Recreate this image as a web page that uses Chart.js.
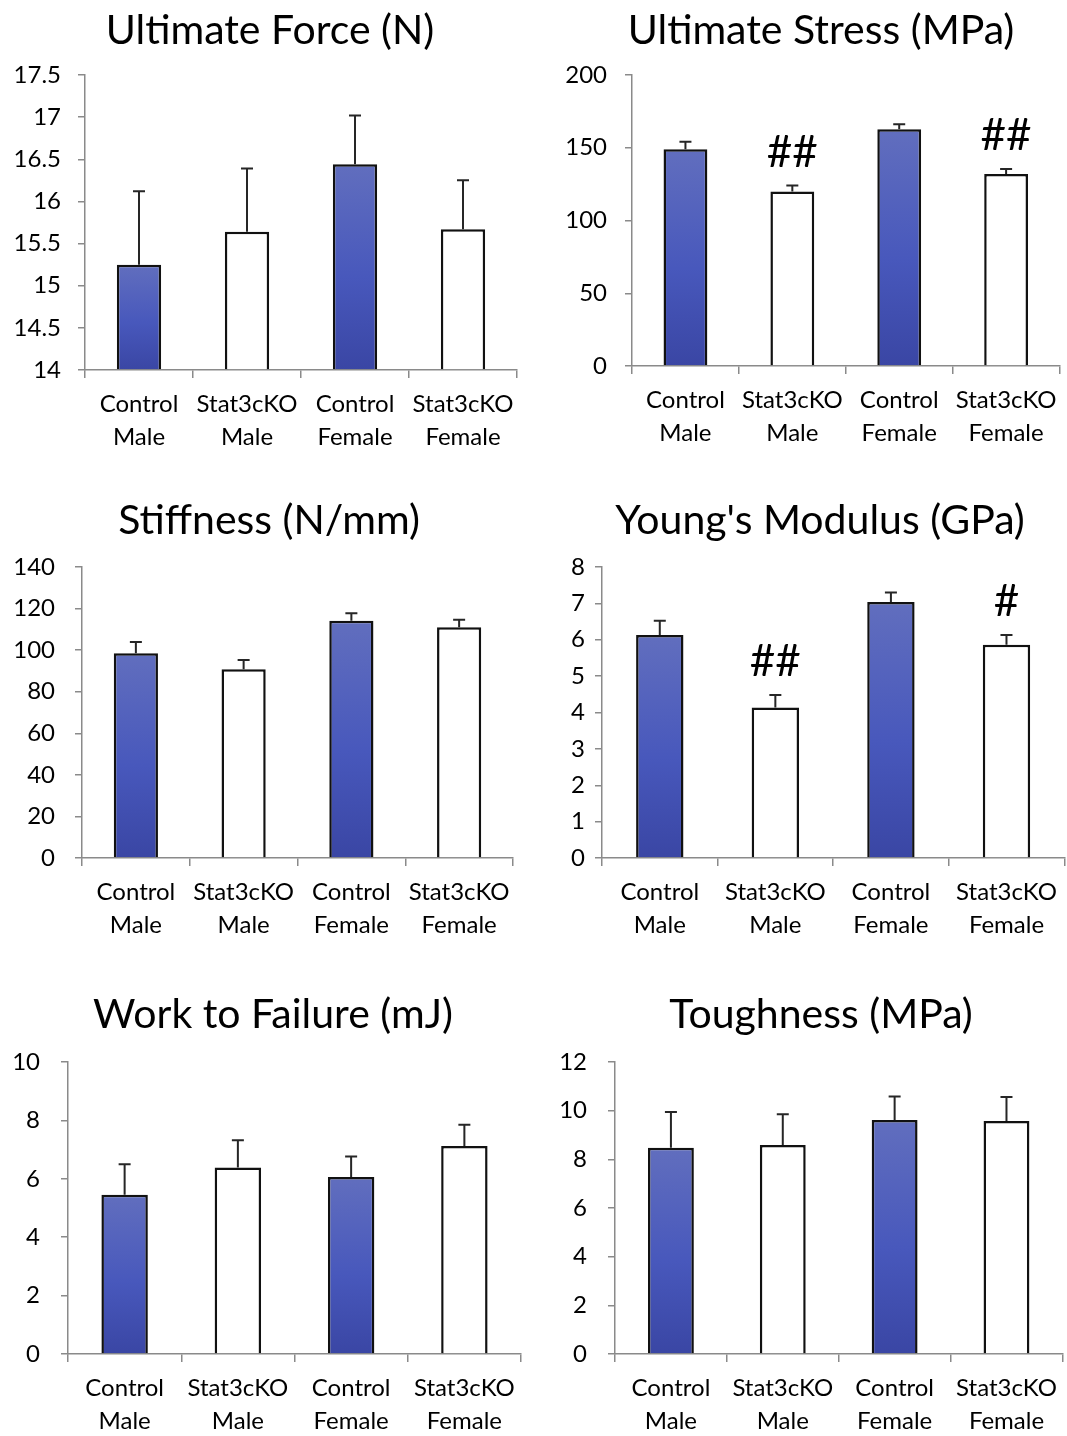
<!DOCTYPE html>
<html><head><meta charset="utf-8">
<script src="https://cdn.jsdelivr.net/npm/chart.js@4.4.0/dist/chart.umd.min.js"></script>
<style>
html,body{margin:0;padding:0;background:#fff;}
body{width:1067px;height:1436px;position:relative;overflow:hidden;}
canvas{position:absolute;}
</style></head><body>
<canvas id="c1"></canvas><canvas id="c2"></canvas><canvas id="c3"></canvas>
<canvas id="c4"></canvas><canvas id="c5"></canvas><canvas id="c6"></canvas>
<script>
// ---------- data ----------
const categories = [['Control','Male'],['Stat3cKO','Male'],['Control','Female'],['Stat3cKO','Female']];
const groups = ['Control','Stat3cKO','Control','Stat3cKO'];

const forceMean = [15.25, 15.64, 16.44, 15.67];
const forceSem  = [0.87, 0.75, 0.58, 0.58];
const forceTicks = [14, 14.5, 15, 15.5, 16, 16.5, 17, 17.5];
const forceSig = ['', '', '', ''];

const stressMean = [149, 120, 162.7, 132];
const stressSem  = [5.2, 4.0, 3.4, 3.4];
const stressTicks = [0, 50, 100, 150, 200];
const stressSig = ['', '##', '', '##'];

const stiffMean = [98.5, 90.8, 114.1, 111];
const stiffSem  = [5.4, 4.4, 3.6, 3.6];
const stiffTicks = [0, 20, 40, 60, 80, 100, 120, 140];
const stiffSig = ['', '', '', ''];

const youngMean = [6.13, 4.14, 7.04, 5.86];
const youngSem  = [0.39, 0.34, 0.26, 0.27];
const youngTicks = [0, 1, 2, 3, 4, 5, 6, 7, 8];
const youngSig = ['', '##', '', '#'];

const workMean = [5.45, 6.39, 6.06, 7.12];
const workSem  = [1.05, 0.93, 0.70, 0.73];
const workTicks = [0, 2, 4, 6, 8, 10];
const workSig = ['', '', '', ''];

const toughMean = [8.48, 8.59, 9.62, 9.58];
const toughSem  = [1.47, 1.26, 0.96, 0.98];
const toughTicks = [0, 2, 4, 6, 8, 10, 12];
const toughSig = ['', '', '', ''];

const titles = ['Ultimate Force (N)','Ultimate Stress (MPa)','Stiffness (N/mm)',"Young's Modulus (GPa)",'Work to Failure (mJ)','Toughness (MPa)'];

// ---------- layout / style ----------
const panels = [
  {id:'c1', title:titles[0], mean:forceMean, sem:forceSem, ticks:forceTicks, sig:forceSig,
   box:[0,0,540,475], area:[85,75,517,370], yW:80, xH:90, yPad:17, tx:270, ty:44},
  {id:'c2', title:titles[1], mean:stressMean, sem:stressSem, ticks:stressTicks, sig:stressSig,
   box:[540,0,527,475], area:[632,75,1063,366], yW:80, xH:90, yPad:18, tx:821, ty:44},
  {id:'c3', title:titles[2], mean:stiffMean, sem:stiffSem, ticks:stiffTicks, sig:stiffSig,
   box:[0,475,540,490], area:[82,567,513,858], yW:80, xH:90, yPad:20, tx:269, ty:534},
  {id:'c4', title:titles[3], mean:youngMean, sem:youngSem, ticks:youngTicks, sig:youngSig,
   box:[540,475,527,490], area:[602,567,1066,858], yW:60, xH:90, yPad:10, tx:820, ty:534},
  {id:'c5', title:titles[4], mean:workMean, sem:workSem, ticks:workTicks, sig:workSig,
   box:[0,965,540,471], area:[68,1062,521,1354], yW:60, xH:80, yPad:21, tx:273, ty:1028},
  {id:'c6', title:titles[5], mean:toughMean, sem:toughSem, ticks:toughTicks, sig:toughSig,
   box:[540,965,527,471], area:[615,1062,1066,1354], yW:60, xH:80, yPad:21, tx:821, ty:1028}
];

const AXIS = '#8a8a8a';
const FONT = 'Lato';

const extras = {
  id: 'extras',
  afterDatasetsDraw(chart, args, opts) {
    const p = opts.panel;
    const ctx = chart.ctx;
    const meta = chart.getDatasetMeta(0);
    const y = chart.scales.y;
    ctx.save();
    ctx.strokeStyle = '#262626';
    ctx.lineWidth = 2;
    meta.data.forEach((bar, i) => {
      const top = y.getPixelForValue(p.mean[i]);
      const end = y.getPixelForValue(p.mean[i] + p.sem[i]);
      ctx.beginPath();
      ctx.moveTo(bar.x, top); ctx.lineTo(bar.x, end);
      ctx.moveTo(bar.x - 6, end); ctx.lineTo(bar.x + 6, end);
      ctx.stroke();
      if (p.sig[i]) {
        ctx.fillStyle = '#000';
        ctx.font = '44px ' + FONT;
        ctx.textAlign = 'center';
        ctx.textBaseline = 'alphabetic';
        ctx.fillText(p.sig[i], bar.x, end - 19);
      }
    });
    ctx.fillStyle = '#000';
    ctx.font = '41px ' + FONT;
    ctx.textAlign = 'center';
    ctx.textBaseline = 'alphabetic';
    ctx.fillText(p.title, p.tx - p.box[0], p.ty - p.box[1]);
    ctx.restore();
  }
};

panels.forEach(p => {
  const [cx, cy, cw, ch] = p.box;
  const [L, T, R, B] = p.area;
  const cv = document.getElementById(p.id);
  cv.width = cw; cv.height = ch;
  cv.style.left = cx + 'px'; cv.style.top = cy + 'px';
  cv.style.width = cw + 'px'; cv.style.height = ch + 'px';
  const lo = p.ticks[0], hi = p.ticks[p.ticks.length - 1];
  new Chart(cv, {
    type: 'bar',
    data: {
      labels: categories,
      datasets: [{
        data: p.mean,
        base: lo,
        backgroundColor: (c) => {
          if (groups[c.dataIndex] !== 'Control') return '#ffffff';
          const chart = c.chart;
          const area = chart.chartArea;
          const ys = chart.scales.y;
          if (!area || !ys) return '#4a5abf';
          const top = ys.getPixelForValue(p.mean[c.dataIndex]);
          const g = chart.ctx.createLinearGradient(0, top, 0, area.bottom);
          g.addColorStop(0, '#616ebe');
          g.addColorStop(0.55, '#4858bc');
          g.addColorStop(1, '#3a46a4');
          return g;
        },
        borderColor: '#111',
        borderWidth: 2.5,
        borderSkipped: 'start',
        barPercentage: 0.41,
        categoryPercentage: 1
      }]
    },
    options: {
      responsive: false,
      animation: false,
      devicePixelRatio: 1,
      layout: { padding: { left: (L - cx) - p.yW, top: T - cy, right: (cx + cw) - R, bottom: (cy + ch) - B - p.xH } },
      plugins: { legend: { display: false }, tooltip: { enabled: false }, title: { display: false }, extras: { panel: p } },
      scales: {
        x: {
          grid: { display: true, drawOnChartArea: false, drawTicks: true, tickLength: 8, color: AXIS, lineWidth: 1.5, offset: true },
          border: { display: true, color: AXIS, width: 1.5 },
          ticks: { color: '#000', font: { family: FONT, size: 24, lineHeight: 1.38 }, padding: 10, maxRotation: 0, minRotation: 0, autoSkip: false },
          afterFit: (s) => { s.height = p.xH; }
        },
        y: {
          min: lo, max: hi,
          grid: { display: true, drawOnChartArea: false, drawTicks: true, tickLength: 7, color: AXIS, lineWidth: 1.5 },
          border: { display: true, color: AXIS, width: 1.5 },
          ticks: { color: '#000', font: { family: FONT, size: 24 }, padding: p.yPad, callback: (v) => String(+(+v).toFixed(2)) },
          afterBuildTicks: (s) => { s.ticks = p.ticks.map(v => ({ value: v })); },
          afterFit: (s) => { s.width = p.yW; }
        }
      }
    },
    plugins: [extras]
  });
});
</script>
</body></html>
